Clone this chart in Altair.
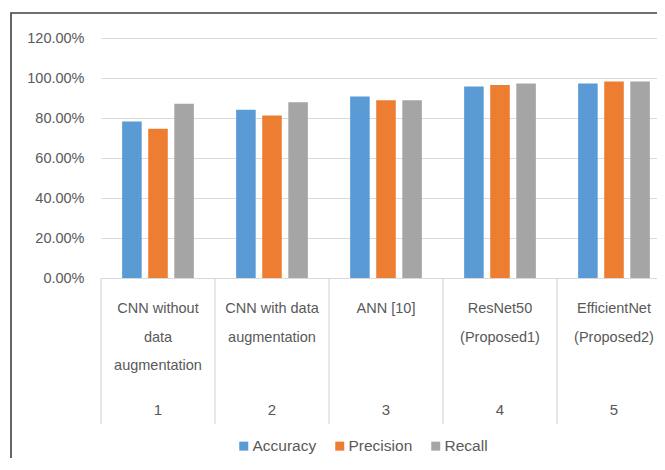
import altair as alt
import pandas as pd

# ---- data ----
categories = ["1", "2", "3", "4", "5"]
cat_labels = [
    "CNN without\ndata\naugmentation",
    "CNN with data\naugmentation",
    "ANN [10]",
    "ResNet50\n(Proposed1)",
    "EfficientNet\n(Proposed2)",
]
metrics = ["Accuracy", "Precision", "Recall"]
accuracy = [0.783, 0.841, 0.907, 0.957, 0.973]
precision = [0.746, 0.813, 0.889, 0.965, 0.983]
recall = [0.871, 0.879, 0.889, 0.973, 0.983]
y_ticks = [0, 0.2, 0.4, 0.6, 0.8, 1.0, 1.2]
colors = ["#5B9BD5", "#ED7D31", "#A5A5A5"]

rows = []
for i, c in enumerate(categories):
    for m, vals in zip(metrics, [accuracy, precision, recall]):
        rows.append({"cat": c, "metric": m, "value": vals[i]})
df = pd.DataFrame(rows)
lab_df = pd.DataFrame({"cat": categories, "label": cat_labels})
one = pd.DataFrame({"a": [0]})

FONT = "Liberation Sans"
GRAY_TXT = "#595959"
GRID = "#d9d9d9"
W, H = 556, 240
CAT_W = 114

xscale = alt.Scale(domain=categories, range=[0, CAT_W * 5], paddingInner=0, paddingOuter=0)

border = alt.Chart(one).mark_rect(fillOpacity=0, stroke="#404040", strokeWidth=1.6).encode(
    x=alt.value(-90), x2=alt.value(800), y=alt.value(-25), y2=alt.value(700)
)

bars = alt.Chart(df).mark_bar().encode(
    x=alt.X("cat:N", scale=xscale, axis=None, sort=categories),
    xOffset=alt.XOffset("metric:N", sort=metrics,
                        scale=alt.Scale(domain=metrics, paddingInner=0.25, paddingOuter=0.81)),
    y=alt.Y("value:Q", scale=alt.Scale(domain=[0, 1.2], nice=False),
            axis=alt.Axis(values=y_ticks, format=".2%", title=None, ticks=False, domain=False,
                          labelPadding=17, labelFontSize=14.5, labelColor=GRAY_TXT, labelFont=FONT,
                          gridColor=GRID, gridWidth=1.2)),
    color=alt.Color("metric:N", sort=metrics,
                    scale=alt.Scale(domain=metrics, range=colors),
                    legend=alt.Legend(title=None, orient="none", direction="horizontal",
                                      legendX=135, legendY=400, symbolType="square",
                                      symbolSize=81, symbolStrokeWidth=0, labelFontSize=15.5,
                                      labelColor=GRAY_TXT, labelFont=FONT, columnPadding=15,
                                      labelOffset=1, padding=0)),
)

seps = alt.Chart(lab_df).mark_rule(color=GRID, strokeWidth=1.2).encode(
    x=alt.X("cat:N", scale=xscale, axis=None, sort=categories, bandPosition=0),
    y=alt.value(H),
    y2=alt.value(386),
)

labels = alt.Chart(lab_df).mark_text(
    lineBreak="\n", lineHeight=28.5, baseline="top", fontSize=14.5, font=FONT, color=GRAY_TXT
).encode(
    x=alt.X("cat:N", scale=xscale, axis=None, sort=categories),
    y=alt.value(264),
    text="label:N",
)

nums = alt.Chart(lab_df).mark_text(
    baseline="middle", fontSize=15, font=FONT, color=GRAY_TXT
).encode(
    x=alt.X("cat:N", scale=xscale, axis=None, sort=categories),
    y=alt.value(372),
    text="cat:N",
)

chart = alt.layer(border, bars, seps, labels, nums).properties(
    width=W, height=H,
    padding={"left": 93, "top": 30, "right": 0, "bottom": 180},
    autosize=alt.AutoSizeParams(type="none"),
).configure_view(stroke=None)

chart.save("out.html", embed_options={"renderer": "svg", "actions": False})
